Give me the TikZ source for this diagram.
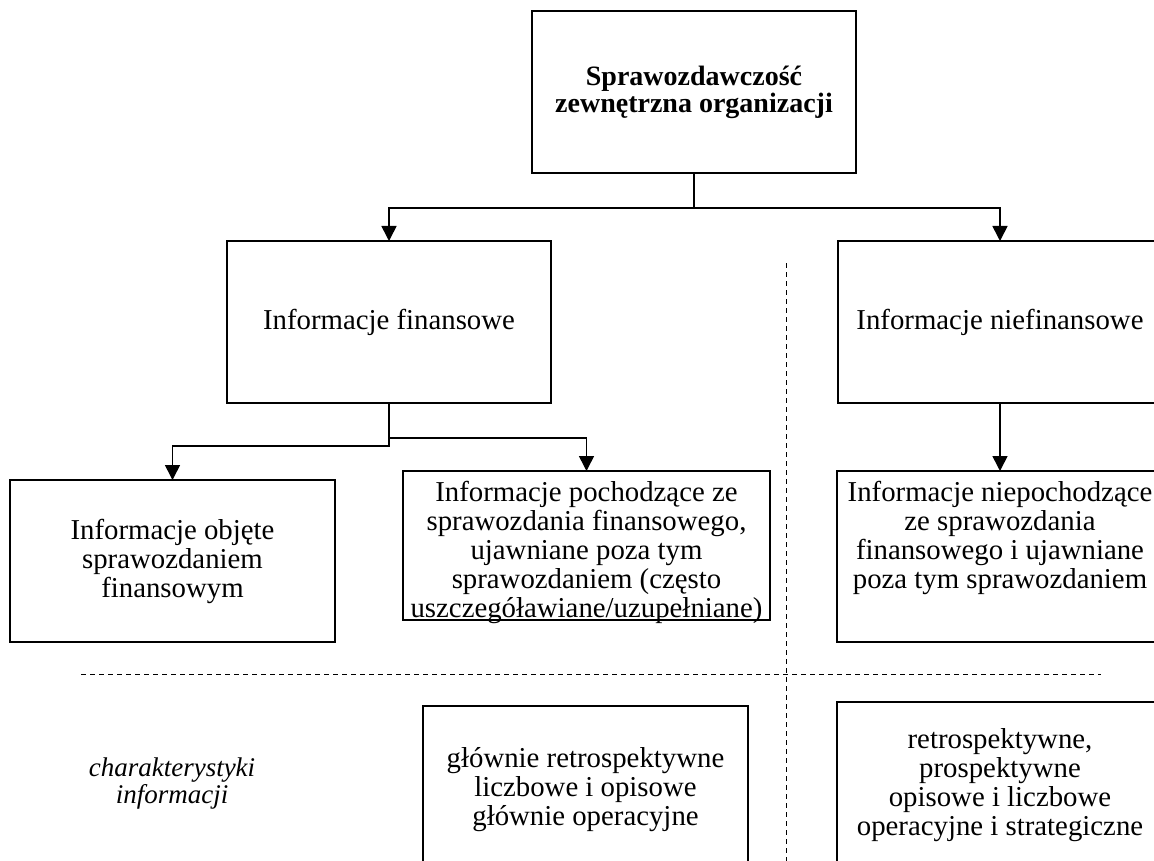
\documentclass[tikz,border=0pt]{standalone}
\usepackage{fontspec}
\setmainfont{Liberation Serif}
\usetikzlibrary{arrows.meta}
\begin{document}
\begin{tikzpicture}[x=1pt,y=-1pt,
  box/.style={draw,line width=1.6pt,rectangle,inner sep=0pt,outer sep=0pt},
  txt/.style={align=center,inner sep=0pt,font=\fontsize{28.8}{29}\selectfont},
  conn/.style={line width=1.6pt,-{Triangle[width=15pt,length=15pt]}},
  guide/.style={line width=0.9pt,dash pattern=on 5pt off 4pt}]
\clip (0,0) rectangle (1154,861);
\fill[white] (0,0) rectangle (1154,861);

% title box
\node[box,minimum width=324pt,minimum height=162pt,align=center,
      font=\bfseries\fontsize{28}{27}\selectfont] (top) at (694,92)
      {Sprawozdawczość\\zewnętrzna organizacji};

% second level
\node[box,txt,minimum width=324pt,minimum height=162pt] (fin) at (389,322)
      {Informacje finansowe};
\node[box,txt,minimum width=324pt,minimum height=162pt] (nfin) at (1000,322)
      {Informacje niefinansowe};

% third level
\node[box,txt,minimum width=325pt,minimum height=162pt] (fin1) at (172.5,561)
      {Informacje objęte\\sprawozdaniem\\finansowym};
\node[box,minimum width=367pt,minimum height=149pt] (fin2) at (586.5,545.5) {};
\node[txt] (fin2t) at (586.5,552)
      {Informacje pochodzące ze\\sprawozdania finansowego,\\ujawniane poza tym\\sprawozdaniem (często\\uszczegóławiane/uzupełniane)};
\node[box,minimum width=326pt,minimum height=171pt] (nfin2) at (1000,556.5) {};
\node[txt] (nfin2t) at (1000,538)
      {Informacje niepochodzące\\ze sprawozdania\\finansowego i ujawniane\\poza tym sprawozdaniem};

% characteristics row
\node[align=center,inner sep=0pt,font=\itshape\fontsize{27}{26.5}\selectfont] (lbl) at (172,783.5)
      {charakterystyki\\informacji};
\node[box,txt,minimum width=325pt,minimum height=168pt] (cfin) at (585.5,790)
      {głównie retrospektywne\\liczbowe i opisowe\\głównie operacyjne};
\node[box,txt,minimum width=326pt,minimum height=166pt] (cnfin) at (1000,785)
      {retrospektywne,\\prospektywne\\opisowe i liczbowe\\operacyjne i strategiczne};

% connectors
\coordinate (bus) at (694,208);
\draw[conn] (top.south) -- (bus) -| (fin.north);
\draw[conn] (bus) -| (nfin.north);
\coordinate (busL) at (389,446);
\coordinate (busR) at (389,438);
\draw[conn] (fin.south) -- (busL) -| (fin1.north);
\draw[conn] (busR) -| (fin2.north);
\draw[conn] (nfin.south) -- (nfin2.north);

% dividing lines
\coordinate (vtop) at (786,263);
\coordinate (vbot) at (786,861);
\coordinate (hl) at (81,674);
\coordinate (hr) at (1101,674);
\draw[guide] (vtop) -- (vbot);
\draw[guide] (hl) -- (hr);
\end{tikzpicture}
\end{document}
